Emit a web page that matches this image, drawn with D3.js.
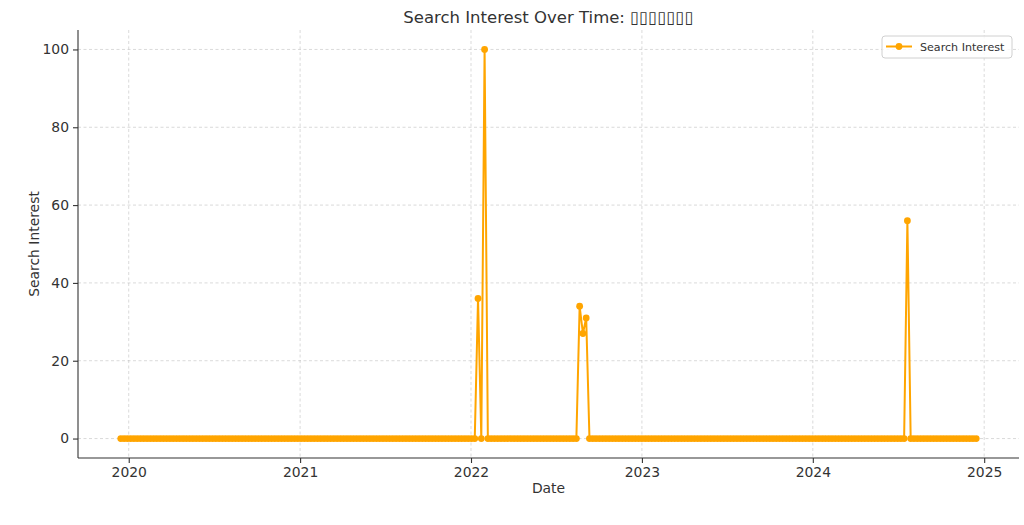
<!DOCTYPE html>
<html>
<head>
<meta charset="utf-8">
<script src="https://cdn.jsdelivr.net/npm/d3@7"></script>
<style>
  html, body { margin: 0; padding: 0; background: #fff; }
  svg { display: block; font-family: "DejaVu Sans", sans-serif; }
</style>
</head>
<body>
<svg id="chart" width="1024" height="525"></svg>
<script>
// ---- Data (weekly) ----
const startDate = "2019-12-15";   // first weekly point
const endDate = "2024-12-15";     // last weekly point
const seriesName = "Search Interest";
const titleText = "Search Interest Over Time: ";
const titleMissing = "▯▯▯▯▯▯▯";   // glyphs rendered as missing boxes in the reference
const values = [
  0,0,0,0,0,0,0,0,0,0,0,0,0,0,0,0,0,0,0,0,
  0,0,0,0,0,0,0,0,0,0,0,0,0,0,0,0,0,0,0,0,
  0,0,0,0,0,0,0,0,0,0,0,0,0,0,0,0,0,0,0,0,
  0,0,0,0,0,0,0,0,0,0,0,0,0,0,0,0,0,0,0,0,
  0,0,0,0,0,0,0,0,0,0,0,0,0,0,0,0,0,0,0,0,
  0,0,0,0,0,0,0,0,0,36,0,100,0,0,0,0,0,0,0,0,
  0,0,0,0,0,0,0,0,0,0,0,0,0,0,0,0,0,0,0,0,
  34,27,31,0,0,0,0,0,0,0,0,0,0,0,0,0,0,0,0,0,
  0,0,0,0,0,0,0,0,0,0,0,0,0,0,0,0,0,0,0,0,
  0,0,0,0,0,0,0,0,0,0,0,0,0,0,0,0,0,0,0,0,
  0,0,0,0,0,0,0,0,0,0,0,0,0,0,0,0,0,0,0,0,
  0,0,0,0,0,0,0,0,0,0,0,0,0,0,0,0,0,0,0,0,
  56,0,0,0,0,0,0,0,0,0,0,0,0,0,0,0,0,0,0,0,
  0,0
];
const yTicks = [0, 20, 40, 60, 80, 100];
const xTickYears = ["2020", "2021", "2022", "2023", "2024", "2025"];
const xLabel = "Date";
const yLabel = "Search Interest";

// ---- Build ----
const parse = d3.utcParse("%Y-%m-%d");
const dates = d3.utcWeek.every(1).range(parse(startDate), d3.utcDay.offset(parse(endDate), 1));
const data = dates.map((d, i) => ({ date: d, value: values[i] }));

const W = 1024, H = 525;
const margin = { top: 30, right: 5, bottom: 67, left: 78 };
const color = "#FFA500";
const textColor = "#333333";

const svg = d3.select("#chart");

const t0 = parse(startDate).getTime(), t1 = parse(endDate).getTime();
const pad = (t1 - t0) * 0.05;
const x = d3.scaleUtc()
  .domain([new Date(t0 - pad), new Date(t1 + pad)])
  .range([margin.left, W - margin.right]);
const y = d3.scaleLinear()
  .domain([-5, 105])
  .range([H - margin.bottom, margin.top]);

const xTicks = xTickYears.map(s => d3.utcParse("%Y")(s));

// grid
const grid = svg.append("g").attr("class", "grid");
grid.selectAll("line.gx").data(xTicks).join("line")
  .attr("x1", d => x(d)).attr("x2", d => x(d))
  .attr("y1", margin.top).attr("y2", H - margin.bottom)
  .attr("stroke", "#b0b0b0").attr("stroke-opacity", 0.6)
  .attr("stroke-width", 0.8).attr("stroke-dasharray", "3,2.5");
grid.selectAll("line.gy").data(yTicks).join("line")
  .attr("x1", margin.left).attr("x2", W - margin.right)
  .attr("y1", d => y(d)).attr("y2", d => y(d))
  .attr("stroke", "#b0b0b0").attr("stroke-opacity", 0.6)
  .attr("stroke-width", 0.8).attr("stroke-dasharray", "3,2.5");

// axes
const xAxis = svg.append("g")
  .attr("transform", `translate(0,${H - margin.bottom})`)
  .call(d3.axisBottom(x).tickValues(xTicks).tickFormat(d3.utcFormat("%Y")).tickSizeOuter(0).tickSize(5).tickPadding(4));
const yAxis = svg.append("g")
  .attr("transform", `translate(${margin.left},0)`)
  .call(d3.axisLeft(y).tickValues(yTicks).tickSizeOuter(0).tickSize(5).tickPadding(4));

[xAxis, yAxis].forEach(a => {
  a.select(".domain").attr("stroke", "#333").attr("stroke-width", 1.1);
  a.selectAll(".tick line").attr("stroke", "#333").attr("stroke-width", 1.1);
  a.selectAll(".tick text").attr("fill", textColor)
    .style("font-family", "DejaVu Sans").style("font-size", "13.9px");
});
xAxis.select(".domain").attr("d", `M${margin.left},0H${W - margin.right}`);
yAxis.select(".domain").attr("d", `M0,${H - margin.bottom}V${margin.top}`);

// line
const line = d3.line().x(d => x(d.date)).y(d => y(d.value));
svg.append("path").datum(data)
  .attr("fill", "none").attr("stroke", color)
  .attr("stroke-width", 2).attr("stroke-linejoin", "round")
  .attr("d", line);
svg.append("g").selectAll("circle").data(data).join("circle")
  .attr("cx", d => x(d.date)).attr("cy", d => y(d.value))
  .attr("r", 3.4).attr("fill", color);

// title
const title = svg.append("text")
  .attr("x", (margin.left + W - margin.right) / 2).attr("y", 23)
  .attr("text-anchor", "middle").attr("fill", textColor)
  .style("font-size", "16.5px");
title.append("tspan").text(titleText);
title.append("tspan").text(titleMissing);

// axis labels
svg.append("text")
  .attr("x", (margin.left + W - margin.right) / 2).attr("y", 493)
  .attr("text-anchor", "middle").attr("fill", textColor)
  .style("font-size", "13.9px").text(xLabel);
svg.append("text")
  .attr("transform", `translate(39,${(margin.top + H - margin.bottom) / 2}) rotate(-90)`)
  .attr("text-anchor", "middle").attr("fill", textColor)
  .style("font-size", "13.9px").text(yLabel);

// legend
const lg = svg.append("g").attr("transform", "translate(882,36)");
lg.append("rect").attr("width", 130).attr("height", 22).attr("rx", 3)
  .attr("fill", "#fff").attr("fill-opacity", 0.8)
  .attr("stroke", "#d0d0d0").attr("stroke-width", 1);
lg.append("line").attr("x1", 4).attr("x2", 30).attr("y1", 10.5).attr("y2", 10.5)
  .attr("stroke", color).attr("stroke-width", 2);
lg.append("circle").attr("cx", 17).attr("cy", 10.5).attr("r", 3.4).attr("fill", color);
lg.append("text").attr("x", 38).attr("y", 14.5).attr("fill", textColor)
  .style("font-size", "11.1px").text(seriesName);
</script>
</body>
</html>
